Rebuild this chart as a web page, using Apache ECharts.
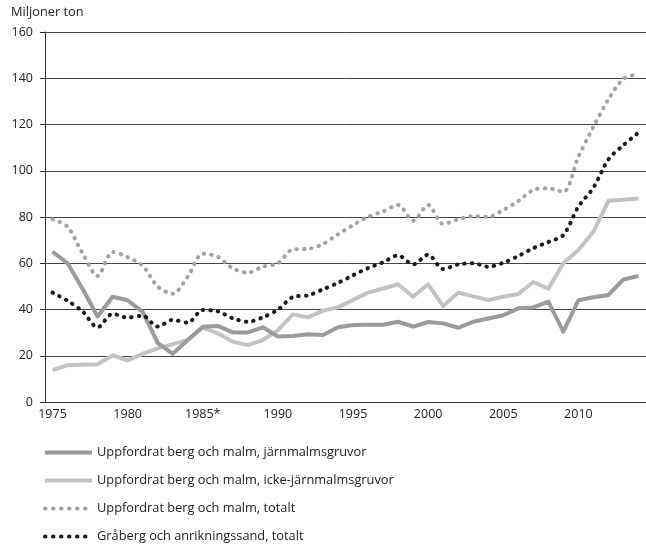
<!DOCTYPE html>
<html>
<head>
<meta charset="utf-8">
<script src="https://cdn.jsdelivr.net/npm/echarts@6/dist/echarts.min.js"></script>
<style>
  html, body { margin: 0; padding: 0; background: #fff; }
  #chart { width: 646px; height: 548px; }
</style>
</head>
<body>
<div id="chart"></div>
<script>
// år 1975-2014
var years = [];
for (var y = 1975; y <= 2014; y++) years.push(String(y));

var jarnmalm = [65, 60, 49, 37, 45.5, 44, 39, 25.6, 20.8, 26.8,
  32.5, 32.9, 30.1, 30.1, 32.3, 28.3, 28.5, 29.3, 29, 32.3,
  33.3, 33.4, 33.4, 34.7, 32.6, 34.6, 34, 32.1, 34.7, 36.1,
  37.5, 40.5, 40.9, 43.4, 30.4, 44, 45.3, 46.3, 53, 54.5];

var ickeJarnmalm = [13.8, 15.9, 16.1, 16.3, 20.2, 18, 20.8, 23.2, 25, 26.8,
  32.2, 29.7, 26.1, 24.6, 26.8, 31.1, 37.9, 36.6, 39.5, 40.9,
  44.1, 47.3, 49.1, 50.9, 45.5, 50.9, 41.5, 47.3, 45.7, 44.1,
  45.5, 46.7, 51.9, 49, 60, 65.7, 73.6, 87, 87.5, 88];

var malmTotalt = [79, 75.8, 64.3, 54.5, 64.9, 62.6, 58.9, 49.9, 46.8, 54.2,
  64.1, 62.8, 57.8, 55.9, 58.5, 60, 66, 66.2, 68.3, 72.5,
  76.5, 80.1, 82.4, 85.2, 78.4, 85.2, 77, 79, 80.4, 80.1,
  83, 86.9, 91.7, 92.4, 90.9, 106, 119, 130.9, 139.7, 141.8];

var grabergSand = [47.3, 43.8, 39.2, 32.3, 38.1, 36.5, 37.3, 32.6, 35.5, 34.3,
  39.8, 39.2, 36.2, 34.7, 36.6, 39.9, 45.4, 46.1, 48.7, 51.5,
  54.8, 57.9, 60.4, 63.4, 59.5, 63.7, 57.5, 59.5, 60, 58.5,
  60.2, 63.1, 66.5, 69.2, 72.2, 84.5, 92.7, 104.9, 111.1, 116.5];

var seriesNames = [
  'Uppfordrat berg och malm, järnmalmsgruvor',
  'Uppfordrat berg och malm, icke-järnmalmsgruvor',
  'Uppfordrat berg och malm, totalt',
  'Gråberg och anrikningssand, totalt'
];
var seriesColors = ['#9b9b9b', '#c3c3c3', '#a3a3a3', '#1a1a1a'];
var dotted = [false, false, true, true];

var font = 'Open Sans';
var chart = echarts.init(document.getElementById('chart'));

// en legend per rad
var legendTops = [446, 474, 502, 530];
var legends = seriesNames.map(function (name, i) {
  return {
    orient: 'horizontal',
    left: 43,
    top: legendTops[i],
    padding: 0,
    itemWidth: 47,
    itemHeight: 16,
    itemGap: 0,
    itemStyle: { opacity: 0 },
    lineStyle: dotted[i]
      ? { width: 4, color: seriesColors[i], type: [0.5, 7.5], cap: 'round' }
      : { width: 4, color: seriesColors[i], type: 'solid', cap: 'butt' },
    textStyle: { fontFamily: font, fontSize: 12.8, color: '#222', padding: [0, 0, 0, 0] },
    data: [name]
  };
});

var option = {
  animation: false,
  textStyle: { fontFamily: font },
  grid: { left: 45, right: -5, top: 32, bottom: 146 },
  legend: legends,
  xAxis: {
    type: 'category',
    data: years,
    boundaryGap: true,
    axisLine: { lineStyle: { color: '#333', width: 1 } },
    axisTick: { show: false },
    axisLabel: {
      interval: 4,
      margin: 6,
      fontSize: 12.5,
      color: '#222',
      formatter: function (v) { return v === '1985' ? '1985*' : v; }
    }
  },
  yAxis: {
    type: 'value',
    name: 'Miljoner ton',
    nameLocation: 'end',
    nameGap: 13,
    nameTextStyle: { align: 'left', padding: [0, 0, 0, -34], fontSize: 12.8, color: '#222' },
    min: 0,
    max: 160,
    interval: 20,
    axisLine: { show: true, lineStyle: { color: '#333', width: 1 } },
    axisTick: { show: true, length: 5, lineStyle: { color: '#333' } },
    axisLabel: { margin: 12, fontSize: 12.5, color: '#222' },
    splitLine: { lineStyle: { color: '#444', width: 1 } }
  },
  series: [
    {
      name: seriesNames[0], type: 'line', data: jarnmalm, showSymbol: false, symbol: 'none',
      lineStyle: { color: seriesColors[0], width: 4, join: 'round' }, itemStyle: { color: seriesColors[0] }, z: 3
    },
    {
      name: seriesNames[1], type: 'line', data: ickeJarnmalm, showSymbol: false, symbol: 'none',
      lineStyle: { color: seriesColors[1], width: 4, join: 'round' }, itemStyle: { color: seriesColors[1] }, z: 2
    },
    {
      name: seriesNames[2], type: 'line', data: malmTotalt, showSymbol: false, symbol: 'none', smooth: 0.3,
      lineStyle: { color: seriesColors[2], width: 4, type: [0.5, 7], cap: 'round' }, itemStyle: { color: seriesColors[2] }, z: 4
    },
    {
      name: seriesNames[3], type: 'line', data: grabergSand, showSymbol: false, symbol: 'none', smooth: 0.3,
      lineStyle: { color: seriesColors[3], width: 4, type: [0.5, 7], cap: 'round' }, itemStyle: { color: seriesColors[3] }, z: 5
    }
  ]
};

chart.setOption(option);
</script>
</body>
</html>
